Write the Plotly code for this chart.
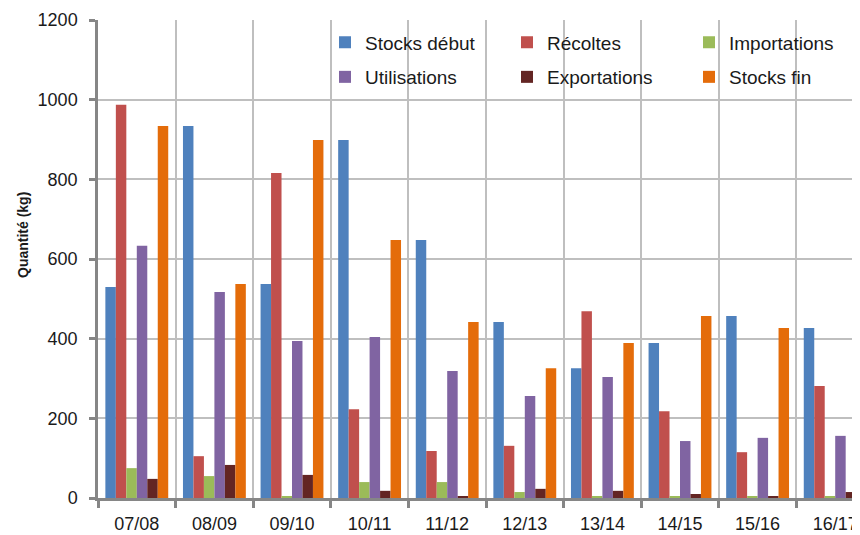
import plotly.graph_objects as go

categories = ["07/08", "08/09", "09/10", "10/11", "11/12", "12/13", "13/14", "14/15", "15/16", "16/17"]

stocks_debut = [530, 934, 537, 899, 648, 442, 326, 389, 457, 427]
recoltes = [987, 105, 816, 223, 118, 131, 469, 218, 115, 281]
importations = [75, 55, 5, 40, 40, 15, 5, 5, 5, 5]
utilisations = [633, 517, 394, 404, 319, 256, 304, 143, 151, 156]
exportations = [48, 83, 58, 18, 5, 23, 18, 10, 3, 15]
stocks_fin = [934, 537, 899, 648, 442, 326, 389, 457, 427, 392]

series = [
    ("Stocks début", stocks_debut, "#4F81BD", "legend"),
    ("Récoltes", recoltes, "#C0504D", "legend"),
    ("Importations", importations, "#9BBB59", "legend"),
    ("Utilisations", utilisations, "#8064A2", "legend2"),
    ("Exportations", exportations, "#632523", "legend2"),
    ("Stocks fin", stocks_fin, "#E46C0A", "legend2"),
]

fig = go.Figure()
for name, vals, color, leg in series:
    fig.add_trace(go.Bar(x=categories, y=vals, name=name, marker_color=color,
                         marker_line_width=0, legend=leg))

FONT = "Liberation Sans, Arial, sans-serif"
TXT = "#1a1a1a"
legend_common = dict(orientation="h", xanchor="left", yanchor="middle",
                     font=dict(family=FONT, size=19, color=TXT),
                     bgcolor="rgba(0,0,0,0)", entrywidth=137, entrywidthmode="pixels",
                     itemwidth=30, tracegroupgap=0)

# page body has an 8px margin, so the figure is offset by 8px and margins compensate
OFF = 8
W, H = 860, 535 - OFF
plot_l, plot_t, plot_b = 98 - OFF, 20 - OFF, 498 - OFF
plot_r = 860 - OFF  # right edge of plot area in figure coords (window edge)
pw = plot_r - plot_l
ph = plot_b - plot_t

def px_to_paper_x(px):
    return (px - OFF - plot_l) / pw

def px_to_paper_y(py):
    return (plot_b - (py - OFF)) / ph

fig.update_layout(
    template="none",
    width=W, height=H,
    margin=dict(l=plot_l, r=W - plot_r, t=plot_t, b=H - plot_b, pad=0, autoexpand=False),
    paper_bgcolor="white", plot_bgcolor="white",
    barmode="group", bargap=0.19, bargroupgap=0,
    font=dict(family=FONT, color=TXT),
    legend=dict(x=px_to_paper_x(325), y=px_to_paper_y(42.5), **legend_common),
    legend2=dict(x=px_to_paper_x(325), y=px_to_paper_y(77), **legend_common),
    xaxis=dict(
        automargin=False,
        range=[-0.5, -0.5 + pw / 77.6],
        tickson="boundaries", ticks="outside", ticklen=7, tickwidth=2.5, tickcolor="#868686",
        showgrid=True, gridcolor="#BFBFBF", gridwidth=2,
        showline=True, linecolor="#868686", linewidth=2.5,
        tickfont=dict(family=FONT, size=18, color=TXT),
        ticklabelstandoff=8,
    ),
    yaxis=dict(
        automargin=False,
        range=[0, 1200], tickvals=[0, 200, 400, 600, 800, 1000, 1200],
        ticks="outside", ticklen=6, tickwidth=2.5, tickcolor="#868686",
        showgrid=True, gridcolor="#BFBFBF", gridwidth=2,
        showline=True, linecolor="#868686", linewidth=2.5,
        zeroline=False,
        tickfont=dict(family=FONT, size=18, color=TXT),
        ticklabelstandoff=8,
    ),
    annotations=[dict(
        text="<b>Quantité (kg)</b>", textangle=-90, showarrow=False,
        xref="paper", yref="paper", x=px_to_paper_x(23), y=px_to_paper_y(235),
        xanchor="center", yanchor="middle",
        font=dict(family=FONT, size=14, color=TXT),
    )],
)

fig.write_html("out.html")
